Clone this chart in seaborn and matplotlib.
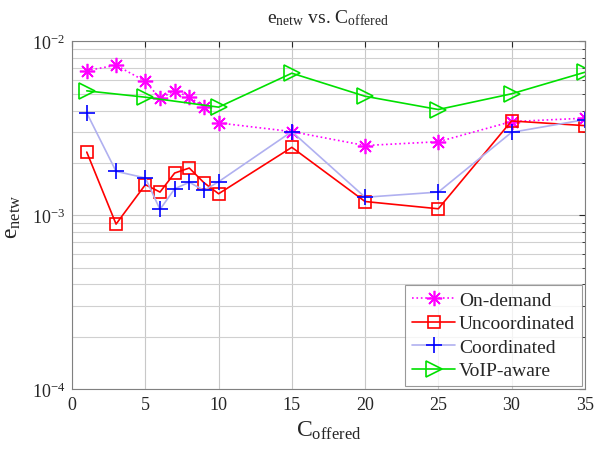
import numpy as np
import pandas as pd
import seaborn as sns
import matplotlib
matplotlib.use("Agg")
import matplotlib.pyplot as plt
from matplotlib.ticker import LogLocator, LogFormatterMathtext

# Data
c_offered = [1, 3, 5, 6, 7, 8, 9, 10, 15, 20, 25, 30, 35]
on_demand = [6.8e-3, 7.3e-3, 5.9e-3, 4.7e-3, 5.2e-3, 4.8e-3, 4.2e-3, 3.4e-3,
             3.03e-3, 2.52e-3, 2.65e-3, 3.46e-3, 3.62e-3]
uncoordinated = [2.31e-3, 0.89e-3, 1.50e-3, 1.36e-3, 1.75e-3, 1.87e-3, 1.54e-3, 1.33e-3,
                 2.46e-3, 1.20e-3, 1.09e-3, 3.49e-3, 3.28e-3]
coordinated = [3.88e-3, 1.79e-3, 1.64e-3, 1.08e-3, 1.42e-3, 1.55e-3, 1.39e-3, 1.56e-3,
               3.03e-3, 1.27e-3, 1.36e-3, 3.0e-3, 3.55e-3]
voip_x = [1, 5, 10, 15, 20, 25, 30, 35]
voip_aware = [5.2e-3, 4.78e-3, 4.19e-3, 6.57e-3, 4.84e-3, 4.06e-3, 5.0e-3, 6.65e-3]

x_ticks = [0, 5, 10, 15, 20, 25, 30, 35]

sns.set_style("white")
plt.rcParams['font.family'] = ['Liberation Serif', 'DejaVu Serif']
plt.rcParams['mathtext.fontset'] = 'custom'
plt.rcParams['mathtext.rm'] = 'Liberation Serif'
plt.rcParams['mathtext.it'] = 'Liberation Serif:italic'

fig = plt.figure(figsize=(6.06, 4.52), dpi=100)
ax = fig.add_axes([0.119, 0.137, 0.846, 0.769])

# series: (x, y, label, marker, marker colour, line colour, linestyle, size)
series = [
    (c_offered, on_demand, 'On-demand', (8, 2, 0), '#ff00ff', '#ff00ff', ':', 11),
    (c_offered, uncoordinated, 'Uncoordinated', 's', '#ff0000', '#ff0000', '-', 9),
    (c_offered, coordinated, 'Coordinated', '+', '#0000ff', '#b0b0f0', '-', 12),
    (voip_x, voip_aware, 'VoIP-aware', '>', '#00e000', '#00e000', '-', 11),
]

for xs, ys, label, mk, mcol, lcol, ls, ms in series:
    df = pd.DataFrame({'C': xs, 'e': ys})
    sns.lineplot(data=df, x='C', y='e', ax=ax, color=lcol, linestyle=ls, lw=1.2,
                 marker=mk, markersize=ms, markerfacecolor='none',
                 markeredgecolor=mcol, markeredgewidth=1.2, label=label)

ax.set_yscale('log')
ax.set_ylim(1e-4, 1e-2)
ax.set_xlim(0, 35)
ax.set_xticks(x_ticks)
ax.yaxis.set_major_locator(LogLocator(base=10, numticks=5))
ax.yaxis.set_minor_locator(LogLocator(base=10, subs=np.arange(2, 10), numticks=20))
ax.yaxis.set_major_formatter(LogFormatterMathtext())

ax.grid(True, which='major', color='#c8c8c8', lw=0.8)
ax.grid(True, which='minor', axis='y', color='#d0d0d0', lw=0.8)
ax.set_axisbelow(True)
ax.tick_params(direction='in', labelsize=13, length=4, top=True, right=True, pad=5)
ax.tick_params(which='minor', direction='in', length=2, right=True)
for sp in ax.spines.values():
    sp.set_color('#808080')
    sp.set_linewidth(0.8)

ax.set_title(r'e$_{\mathrm{netw}}$ vs. C$_{\mathrm{offered}}$', fontsize=14, pad=14)
ax.set_xlabel(r'C$_{\mathrm{offered}}$', fontsize=17, labelpad=4)
ax.set_ylabel(r'e$_{\mathrm{netw}}$', fontsize=17, labelpad=6)

leg = ax.legend(loc='lower right', fontsize=14, frameon=True, fancybox=False,
                borderpad=0.35, labelspacing=0.3, handlelength=2.2,
                handletextpad=0.2, borderaxespad=0.15)
leg.get_frame().set_edgecolor('#808080')
leg.get_frame().set_linewidth(0.8)

fig.savefig('out.png', dpi=100)
